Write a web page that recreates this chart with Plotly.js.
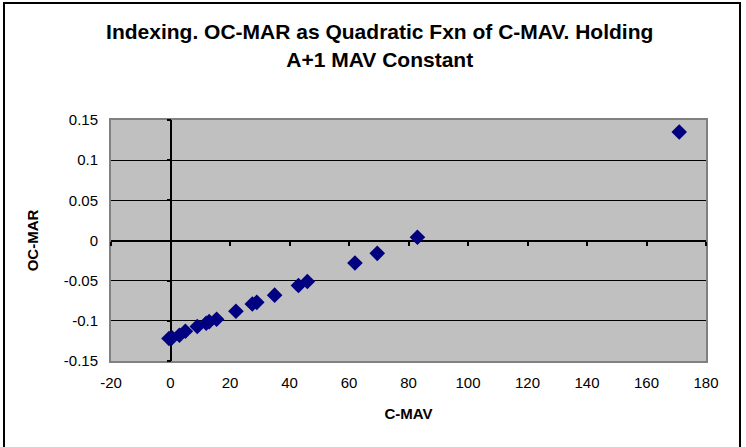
<!DOCTYPE html>
<html>
<head>
<meta charset="utf-8">
<script src="https://cdn.plot.ly/plotly-3.0.1.min.js"></script>
<style>
html,body{margin:0;padding:0;background:#fff;}
#wrap{position:relative;width:746px;height:447px;overflow:hidden;}
#chart{position:absolute;left:0;top:0;width:746px;height:447px;}
#frame{position:absolute;left:3px;top:2px;width:734px;height:460px;border:2px solid #000;pointer-events:none;}
</style>
</head>
<body>
<div id="wrap"><div id="chart"></div><div id="frame"></div></div>
<script>
const cMav = [-0.5, 0.5, 3, 5, 9, 12, 13, 15.5, 22, 27.5, 29, 35, 43, 46, 62, 69.5, 83, 171];
const ocMar = [-0.122, -0.121, -0.118, -0.113, -0.107, -0.103, -0.101, -0.098, -0.088, -0.079, -0.077, -0.068, -0.056, -0.051, -0.028, -0.016, 0.004, 0.135];
const xTicks = [-20, 0, 20, 40, 60, 80, 100, 120, 140, 160, 180];
const yTicks = [-0.15, -0.1, -0.05, 0, 0.05, 0.1, 0.15];
const yTickText = ['-0.15', '-0.1', '-0.05', '0', '0.05', '0.1', '0.15'];

const font = 'Liberation Sans, Arial, sans-serif';
const traces = [
  {x: cMav, y: ocMar, type: 'scatter', mode: 'markers', xaxis: 'x', yaxis: 'y',
   marker: {symbol: 'diamond', size: 12, color: '#000080'}, hoverinfo: 'x+y'},
  {x: cMav, y: ocMar, type: 'scatter', mode: 'markers', xaxis: 'x2', yaxis: 'y2',
   marker: {opacity: 0}, hoverinfo: 'skip', showlegend: false}
];
const layout = {
  width: 746, height: 447,
  margin: {l: 111, r: 40, t: 120, b: 86, pad: 0},
  paper_bgcolor: '#ffffff', plot_bgcolor: '#c0c0c0',
  showlegend: false,
  font: {family: font, color: '#000'},
  title: {text: 'Indexing. OC-MAR as Quadratic Fxn of C-MAV. Holding<br>A+1 MAV Constant',
          font: {family: font, size: 21, color: '#000', weight: 'bold'},
          xref: 'container', x: 0.509, xanchor: 'center', yref: 'container', y: 0.912, yanchor: 'top'},
  xaxis: {range: [-20, 180], tickvals: xTicks, ticktext: xTicks.map(String), showgrid: false,
          zeroline: true, zerolinecolor: '#000', zerolinewidth: 2,
          showline: true, mirror: true, linecolor: '#808080', linewidth: 2,
          ticks: '', tickfont: {size: 15, family: font}, ticklabelstandoff: 7,
          title: {text: 'C-MAV', font: {size: 15, family: font, weight: 'bold'}, standoff: 18}},
  yaxis: {range: [-0.15, 0.15], tickvals: yTicks, ticktext: yTickText, showgrid: true,
          gridcolor: '#000', gridwidth: 1,
          zeroline: true, zerolinecolor: '#000', zerolinewidth: 2,
          showline: true, mirror: true, linecolor: '#808080', linewidth: 2,
          ticks: '', tickfont: {size: 15, family: font}, ticklabelstandoff: 8,
          title: {text: 'OC-MAR', font: {size: 15, family: font, weight: 'bold'}, standoff: 22}},
  xaxis2: {range: [-20, 180], tickvals: xTicks, overlaying: 'x', anchor: 'free', position: 0.5,
           showticklabels: false, showgrid: false, zeroline: false, showline: false,
           ticks: 'outside', ticklen: 4, tickwidth: 2, tickcolor: '#000'},
  yaxis2: {range: [-0.15, 0.15], tickvals: yTicks, overlaying: 'y', anchor: 'free', position: 0.1,
           showticklabels: false, showgrid: false, zeroline: false, showline: false,
           ticks: 'outside', ticklen: 4, tickwidth: 2, tickcolor: '#000'}
};
Plotly.newPlot('chart', traces, layout, {displayModeBar: false, staticPlot: true});
</script>
</body>
</html>
